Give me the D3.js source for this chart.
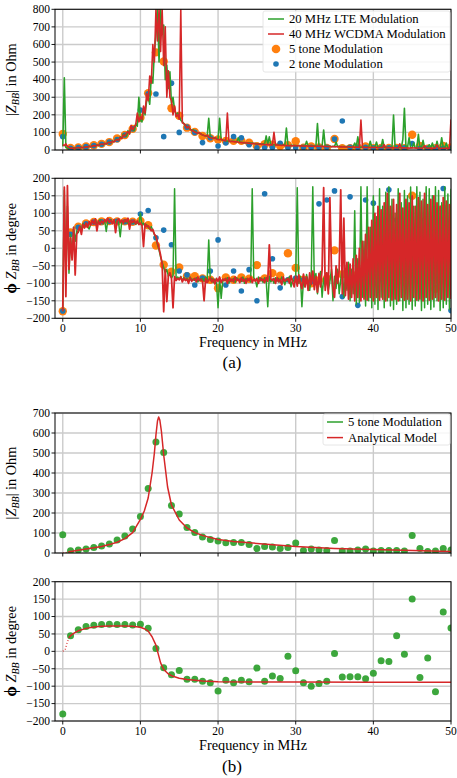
<!DOCTYPE html>
<html><head><meta charset="utf-8">
<script src="https://cdn.jsdelivr.net/npm/d3@7"></script>
<style>
body{margin:0;background:#fff}
svg{display:block}
svg text{fill:#000}
</style>
</head><body><svg id="c" width="457" height="778"></svg>
<script>
// ---------------- DATA ----------------
const toneFreq = d3.range(0, 51);            // 0..50 MHz
const sampleFreq = d3.range(251).map(i => +(i * 0.2).toFixed(1)); // 0..50 MHz, 0.2 MHz steps

// 5 tone modulation (measured)
const tone5Mag = [91,11,15,20,27,35,45,65,85,120,183,323,555,503,237,195,127,103,80,67,60,51,52,52,42,22,33,30,23,27,50,13,20,15,12,63,10,10,15,20,10,12,12,12,10,87,23,8,10,23,15];
const tone5Phase = [-180,45,62,71,75,77,78,77,77,76,78,66,8,-47,-67,-55,-80,-80,-86,-90,-114,-83,-90,-83,-87,-48,-86,-71,-78,-14,-56,-90,-100,-92,-86,-6,-74,-73,-73,-79,-63,-27,-29,45,-8,150,-75,-19,-116,113,67];

// 2 tone modulation
const tone2Mag = [76,10,14,19,25,33,45,60,85,120,227,320,318,76,380,100,130,100,42,70,23,40,76,70,30,13,13,13,38,13,13,15,15,15,15,62,165,15,15,15,12,12,12,12,12,36,10,10,10,10,10];
const tone2Phase = [-179,40,60,70,75,76,77,77,76,75,98,108,30,52,10,-65,-76,-105,-85,-65,24,-105,-65,-122,-61,-150,156,-30,-113,-90,-85,-90,-95,127,138,164,-138,147,-163,138,129,-90,167,81,-100,-60,-40,20,-80,171,-178];

// 20 MHz LTE modulation |Z|
const lteMag = [
20,410,14,10,9, 11,8,13,10,12, 14,11,16,13,17, 19,16,22,18,24, 26,22,29,25,32,
33,30,38,34,42, 45,40,52,47,58, 62,55,75,66,90, 85,78,110,92,125, 120,110,150,135,300,
170,160,230,200,280, 300,260,420,380,560, 650,800,500,800,700, 710,400,483,350,445, 260,300,230,200,210,
190,170,160,150,140, 130,125,120,110,115, 105,100,98,95,92, 85,82,80,78,180, 72,70,68,66,65,
60,180,58,56,55, 52,50,52,48,50, 50,48,46,70,45, 44,42,43,40,41, 40,38,39,37,36,
35,34,36,33,35, 33,80,32,75,31, 30,30,29,31,28, 28,27,29,26,125, 27,26,25,27,26,
25,24,26,23,25, 24,23,50,22,24, 23,22,24,21,150, 22,21,23,114,22, 21,20,22,19,21,
20,45,19,21,18, 20,19,18,20,19, 18,17,19,40,18, 75,17,16,18,17, 16,17,15,50,16,
15,16,45,14,16, 15,60,14,16,15, 14,15,13,199,14, 14,13,15,12,60, 237,14,13,70,12,
13,40,12,14,89, 12,13,55,12,13, 12,30,11,40,12, 11,50,12,11,70, 12,11,40,12,11,
12];

// 40 MHz WCDMA modulation |Z|
const wcdmaMag = [
30,25,35,20,15, 10,12,9,11,13, 14,12,15,13,16, 18,17,21,19,23, 25,23,28,26,31,
34,31,37,35,41, 44,41,50,46,56, 60,56,72,64,85, 80,95,105,90,140, 115,130,145,210,160,
190,175,250,210,320, 280,420,380,600,500, 800,620,800,560,800, 480,700,300,450,300, 280,200,250,190,200,
175,800,155,150,140, 125,135,118,112,108, 102,98,95,100,90, 86,82,79,85,74, 70,68,66,72,63,
60,58,62,55,54, 52,210,50,48,49, 47,46,48,44,43, 42,41,40,42,39, 38,37,36,38,35,
34,33,35,32,33, 31,30,32,29,30, 29,100,28,30,27, 27,26,28,25,26, 25,24,26,23,25,
24,23,25,22,24, 23,22,24,21,23, 22,21,23,20,22, 21,20,22,19,21, 20,19,21,18,20,
19,18,20,17,19, 18,17,19,16,18, 17,16,18,15,17, 16,15,170,14,16, 15,14,16,13,15,
15,14,16,13,14, 14,13,30,12,14, 13,12,14,11,13, 13,12,35,11,12, 12,11,13,10,12,
12,11,13,10,11, 11,10,12,25,11, 11,10,12,9,11, 10,30,11,9,10, 10,9,11,9,10,
174];

// 20 MHz LTE modulation phase
const ltePhase = [
-180,166,-60,120,-71, 40,-20,60,20,50, 45,60,55,70,65, 70,62,55,68,78, 72,80,70,76,82,
75,70,80,48,78, 76,82,72,78,74, 80,72,33,76,78, 74,80,70,78,75, 72,78,68,74,70,
100,66,72,62,68, 60,55,62,50,40, 30,10,-5,-25,-40, -55,-70,-60,-80,-75, -85,-78,170,-90,-82,
-88,-80,-92,-84,-90, -86,-95,-82,-90,-88, -92,-84,-96,-88,-90, -86,-94,-82,-90,24, -92,-85,-98,-88,-100,
-170,-85,-143,-95,-88, -92,-84,-100,-88,-94, -86,-98,-84,-92,-88, -95,-82,-100,-86,-92, -88,-96,170,-84,-90,
-110,-82,-94,-86,-98, -84,-92,-167,-80,-96, -88,-100,-84,-94,-86, -98,-82,-92,-104,-86, -94,-80,-110,-88,-96,
-84,173,-100,-80,-167, -90,-110,-75,-96,-120, -82,176,-104,-72,-130, -92,-66,-140,-85,-110, -70,-120,-95,-60,-150,
-80,-115,-60,-130,-90, -50,-140,-75,-120,-40, -150,-60,-130,107,-160, -30,-155,176,-140,20, -165,176,-150,60,-170,
150,-160,90,-175,170, -140,120,-170,160,-150, 176,-165,140,-175,100, -160,170,-150,130,-178, 165,-170,150,-160,175,
-175,120,-165,176,-150, 160,-178,140,-170,176, -160,170,-175,150,-168, 176,-150,165,-178,130, -170,176,-160,155,-175,
170];

// 40 MHz WCDMA modulation phase
const wcdmaPhase = [
-180,175,-138,179,-60, 30,-33,60,-76,40, 50,62,40,68,58, 72,60,76,66,80, 70,84,50,78,68,
78,72,82,76,86, 74,80,70,82,45, 78,84,74,80,72, 82,76,86,55,80, 74,80,70,78,68,
72,66,5,70,62, 64,58,50,54,40, 35,15,0,-20,-45, -181,-60,-152,-78,-70, -85,-170,-80,-92,-86,
-90,-82,-96,-86,-92, -88,-100,-84,-94,-90, -86,-96,-82,-92,-88, -94,-150,-86,-98,-90, -84,-96,-88,-102,-86,
-94,-82,-98,-88,-92, -86,-100,-84,-94,-88, -96,-82,-92,-88,-98, -84,-94,-88,-100,-86, -92,-82,-98,-88,-94,
-86,-100,-84,-92,-88, -98,-84,-94,10,-88, -92,-86,-100,-84,-96, -88,-104,-82,-94,-90, -86,-100,-78,-96,-110,
-80,-108,-76,-100,-115, -74,-110,-82,-120,-70, -104,-65,-118,-80,-125, -72,-110,-60,173,-120, -70,-130,145,-55,-115,
-140,-50,-100,-60,167, -130,86,-135,-40,-145, -45,-140,-30,-150,-20, -140,0,-150,20,-145, 40,-148,60,-140,80,
-150,100,-140,120,-148, 110,-145,130,-150,157, -140,120,-148,140,-145, 125,-150,157,-140,115, -148,140,-145,130,-150,
150,-140,120,-148,145, -145,135,-150,157,-140, 125,-148,140,-145,150, -140,130,-150,120,-145, 145,-148,135,-140,125,
-145];

// Analytical model
const modelMagFreq = [0.7,1,2,3,4,5,6,7,8,9,10,10.5,11,11.5,11.8,12,12.2,12.35,12.5,12.7,13,13.5,14,15,16,17,18,19,20,22,25,30,35,40,45,50];
const modelMag =     [5,8,14,20,26,33,42,54,72,102,168,210,275,400,500,590,660,680,665,610,490,330,240,165,125,102,88,77,68,58,48,32,23,17,12,8];
const modelMagLowFreq = [0, 0.3, 0.7];
const modelMagLow = [0, 2, 5];
const modelPhFreq = [0.8,1,1.5,2,3,4,5,6,7,8,9,10,10.5,11,11.5,12,12.3,12.6,13,13.5,14,15,16,18,20,25,30,40,50];
const modelPh =     [40,45,53,59,66,70,72,73,73,73,72,69,65,58,42,18,-8,-33,-52,-63,-70,-77,-81,-85,-87,-88,-88,-89,-89];
const modelPhLowFreq = [0, 0.3, 0.5, 0.8];
const modelPhLow = [0, 4, 20, 40];

const xTicks = [0,10,20,30,40,50];
const magTicksA = d3.range(0, 801, 100);
const magTicksB = d3.range(0, 701, 100);
const phaseTicks = d3.range(-200, 201, 50);

// ---------------- DRAW ----------------
const svg = d3.select("#c");

// pick an installed Times-metric serif font (fall back to any serif, scaled to Times widths)
const PROBE = "20 MHz LTE Modulation";
function probeWidth(fam) {
  const t = svg.append("text").attr("x", -2000).attr("y", -2000).attr("font-size", 100)
    .style("font-family", fam).text(PROBE);
  const w = t.node().getComputedTextLength(); t.remove(); return w;
}
const baseW = probeWidth("monospace");
let FONT = null, FS = 1;
for (const c of ["Liberation Serif", "Times New Roman", "Tinos", "Nimbus Roman", "Times", "FreeSerif"]) {
  const w = probeWidth(`'${c}', monospace`);
  if (Math.abs(w - 1030) < 45) { FONT = `'${c}'`; break; }
}
if (!FONT) {
  for (const c of ["Noto Serif", "DejaVu Serif", "serif"]) {
    const w = probeWidth(`'${c}', monospace`);
    if (Math.abs(w - baseW) > 5) { FONT = c === "serif" ? "serif" : `'${c}'`; FS = 1030 / w; break; }
  }
}
if (!FONT) FONT = "serif";

const C = {green:"#2ca02c", red:"#d62728", orange:"#ff7f0e", blue:"#1f77b4", grid:"#cbcbcb"};
const x = d3.scaleLinear().domain([-1, 50]).range([55, 451]);
let clipId = 0;

function fmt(v){ return v < 0 ? "\u2212" + Math.abs(v) : String(v); }
function txt(sel, size){ return sel.append("text").style("font-family", FONT).attr("font-size", size * FS); }

function panel(o) {
  const y = d3.scaleLinear().domain(o.domain).range(o.range);
  const g = svg.append("g");
  const top = o.range[1], bot = o.range[0];
  const id = "clip" + (clipId++);
  svg.append("clipPath").attr("id", id).append("rect")
    .attr("x", 55).attr("y", top).attr("width", 396).attr("height", bot - top);
  g.selectAll(".gx").data(xTicks).join("line")
    .attr("x1", d => x(d)).attr("x2", d => x(d)).attr("y1", top).attr("y2", bot)
    .attr("stroke", C.grid).attr("stroke-width", 1.4);
  g.selectAll(".gy").data(o.ticks).join("line")
    .attr("x1", 55).attr("x2", 451).attr("y1", d => y(d)).attr("y2", d => y(d))
    .attr("stroke", C.grid).attr("stroke-width", 1.4);
  const plot = g.append("g").attr("clip-path", `url(#${id})`);
  o.y = y; o.plot = plot; o.g = g; o.top = top; o.bot = bot;
  return o;
}

function finishPanel(o) {
  const g = o.g, y = o.y;
  g.append("rect").attr("x", 55).attr("y", o.top).attr("width", 396).attr("height", o.bot - o.top)
    .attr("fill", "none").attr("stroke", "#000").attr("stroke-width", 1);
  g.selectAll(".tx").data(xTicks).join("line")
    .attr("x1", d => x(d)).attr("x2", d => x(d)).attr("y1", o.bot).attr("y2", o.bot + 3.5)
    .attr("stroke", "#000").attr("stroke-width", 0.9);
  g.selectAll(".ty").data(o.ticks).join("line")
    .attr("x1", 55 - 3.5).attr("x2", 55).attr("y1", d => y(d)).attr("y2", d => y(d))
    .attr("stroke", "#000").attr("stroke-width", 0.9);
  o.ticks.forEach(d => {
    txt(g, 11.5).attr("x", 50).attr("y", y(d) + 3.8).attr("text-anchor", "end").text(fmt(d));
  });
  if (o.xlabels) {
    xTicks.forEach(d => {
      txt(g, 11.5).attr("x", x(d)).attr("y", o.bot + 14).attr("text-anchor", "middle").text(fmt(d));
    });
    txt(g, 14.3).attr("x", 253).attr("y", o.bot + 29).attr("text-anchor", "middle").text("Frequency in MHz");
  }
  const cy = (o.top + o.bot) / 2;
  const t = txt(g, 14.3).attr("transform", `translate(16,${cy}) rotate(-90)`).attr("text-anchor", "middle");
  if (o.kind === "mag") {
    t.append("tspan").text("|");
    t.append("tspan").attr("font-style", "italic").text("Z");
    t.append("tspan").attr("font-style", "italic").attr("font-size", 10 * FS).attr("dy", 3).text("BB");
    t.append("tspan").attr("dy", -3).text("| in Ohm");
  } else {
    t.append("tspan").attr("font-weight", "bold").attr("font-size", 17 * FS).text("\u03D5");
    t.append("tspan").attr("font-style", "italic").text(" Z");
    t.append("tspan").attr("font-style", "italic").attr("font-size", 10 * FS).attr("dy", 3).text("BB");
    t.append("tspan").attr("dy", -3).text(" in degree");
  }
}

function scatter(o, fx, vals, color, r, op) {
  o.plot.append("g").selectAll("circle").data(vals).join("circle")
    .attr("cx", (d, i) => x(fx[i])).attr("cy", d => o.y(d)).attr("r", r)
    .attr("fill", color).attr("fill-opacity", op || 1);
}
function line(o, fx, vals, color, w, dash) {
  const gen = d3.line().x((d, i) => x(fx[i])).y(d => o.y(d));
  const p = o.plot.append("path").attr("d", gen(vals)).attr("fill", "none")
    .attr("stroke", color).attr("stroke-width", w).attr("stroke-linejoin", "round");
  if (dash) p.attr("stroke-dasharray", dash);
}

function legend(box, items) {
  const g = svg.append("g");
  g.append("rect").attr("x", box.x).attr("y", box.y).attr("width", box.w).attr("height", box.h)
    .attr("rx", 2).attr("fill", "#fff").attr("fill-opacity", 0.85).attr("stroke", "#e0e0e0").attr("stroke-width", 0.8);
  items.forEach((it, i) => {
    const cy = box.y + box.first + i * box.dy;
    if (it.type === "line") {
      g.append("line").attr("x1", box.hx).attr("x2", box.hx + 16).attr("y1", cy).attr("y2", cy)
        .attr("stroke", it.color).attr("stroke-width", 1.5);
    } else {
      g.append("circle").attr("cx", box.hx + 8).attr("cy", cy).attr("r", it.r).attr("fill", it.color);
    }
    txt(g, 12.7).attr("x", box.hx + 21).attr("y", cy + 4.3).text(it.label);
  });
}

// Panel (a) magnitude
const A1 = panel({domain:[0,800], range:[150,9.3], ticks:magTicksA, kind:"mag"});
scatter(A1, toneFreq, tone5Mag, C.orange, 4.2);
scatter(A1, toneFreq, tone2Mag, C.blue, 2.8);
line(A1, sampleFreq, lteMag, C.green, 1.6);
line(A1, sampleFreq, wcdmaMag, C.red, 1.6);
finishPanel(A1);
legend({x:263, y:11, w:187, h:61, first:8, dy:15, hx:268}, [
  {type:"line", color:C.green, label:"20 MHz LTE Modulation"},
  {type:"line", color:C.red, label:"40 MHz WCDMA Modulation"},
  {type:"dot", color:C.orange, r:4.3, label:"5 tone Modulation"},
  {type:"dot", color:C.blue, r:2.8, label:"2 tone Modulation"}]);

// Panel (a) phase
const A2 = panel({domain:[-200,200], range:[318.3,178.3], ticks:phaseTicks, kind:"phase", xlabels:true});
scatter(A2, toneFreq, tone5Phase, C.orange, 4.2);
scatter(A2, toneFreq, tone2Phase, C.blue, 2.8);
line(A2, sampleFreq, ltePhase, C.green, 1.5);
line(A2, sampleFreq, wcdmaPhase, C.red, 1.8);
finishPanel(A2);

// Panel (b) magnitude
const B1 = panel({domain:[0,700], range:[553,413], ticks:magTicksB, kind:"mag"});
scatter(B1, toneFreq, tone5Mag, C.green, 3.5, 0.92);
line(B1, modelMagLowFreq, modelMagLow, C.red, 1.2, "1,2");
line(B1, modelMagFreq, modelMag, C.red, 1.5);
finishPanel(B1);
legend({x:323, y:414, w:127, h:31, first:8, dy:15.6, hx:327}, [
  {type:"line", color:C.green, label:"5 tone Modulation"},
  {type:"line", color:C.red, label:"Analytical Model"}]);

// Panel (b) phase
const B2 = panel({domain:[-200,200], range:[721,581.7], ticks:phaseTicks, kind:"phase", xlabels:true});
scatter(B2, toneFreq, tone5Phase, C.green, 3.5, 0.92);
line(B2, modelPhLowFreq, modelPhLow, C.red, 1.2, "1,2");
line(B2, modelPhFreq, modelPh, C.red, 1.5);
finishPanel(B2);

// sub-figure captions
txt(svg, 17).attr("x", 232).attr("y", 368).attr("text-anchor", "middle").text("(a)");
txt(svg, 17).attr("x", 232).attr("y", 772).attr("text-anchor", "middle").text("(b)");
</script></body></html>
